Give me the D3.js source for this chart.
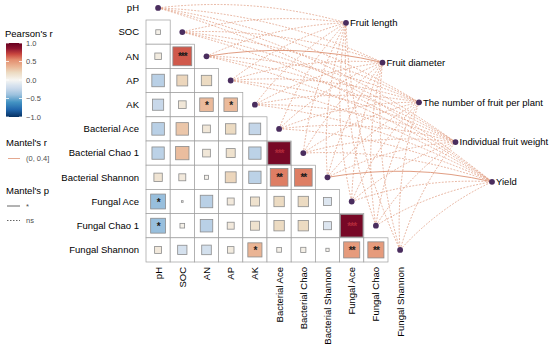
<!DOCTYPE html>
<html>
<head>
<meta charset="utf-8">
<script src="https://cdn.jsdelivr.net/npm/d3@7"></script>
<style>
body { margin: 0; background: #fff; }
svg { display: block; font-family: "Liberation Sans", Arial, sans-serif; }
</style>
</head>
<body>
<svg id="chart" width="550" height="352"></svg>
<script>
// variables of the correlation matrix (rows) and their column labels
const rowNames = ["pH", "SOC", "AN", "AP", "AK", "Bacterial Ace", "Bacterial Chao 1",
    "Bacterial Shannon", "Fungal Ace", "Fungal Chao 1", "Fungal Shannon"];
const colNames = ["pH", "SOC", "AN", "AP", "AK", "Bacterial Ace", "Bacterial Chao",
    "Bacterial Shannon", "Fungal Ace", "Fungal Chao", "Fungal Shannon"];

// lower triangle of Pearson's r, row i has values for columns 0..i-1
const pearsonR = [
    [],
    [0.04],
    [0.08, 0.66],
    [-0.29, 0.22, 0.20],
    [-0.23, 0.11, 0.34, 0.34],
    [-0.29, 0.29, 0.11, 0.20, -0.25],
    [-0.28, 0.33, 0.11, 0.15, -0.28, 0.94],
    [0.13, 0.09, 0.03, 0.22, -0.28, 0.58, 0.58],
    [-0.41, 0.005, -0.29, 0.09, 0.15, 0.20, 0.20, -0.12],
    [-0.41, 0.04, -0.29, 0.09, 0.15, 0.20, 0.20, -0.12, 0.94],
    [0.09, -0.16, -0.17, 0.08, 0.37, 0.04, 0.05, 0.02, 0.48, 0.48]
];
const pearsonSig = [
    [],
    [""],
    ["", "***"],
    ["", "", ""],
    ["", "", "*", "*"],
    ["", "", "", "", ""],
    ["", "", "", "", "", "***"],
    ["", "", "", "", "", "**", "**"],
    ["*", "", "", "", "", "", "", ""],
    ["*", "", "", "", "", "", "", "", "***"],
    ["", "", "", "", "*", "", "", "", "**", "**"]
];

// Mantel test targets, every row variable is linked to every target
const targets = ["Fruit length", "Fruit diameter", "The number of fruit per plant",
    "Individual fruit weight", "Yield"];
// Mantel's r bin is (0, 0.4] for all links; links with p < 0.05
const mantelSignif = [["AN", "Fruit diameter"], ["Bacterial Shannon", "Yield"]];

const colorTicks = [1.0, 0.5, 0.0, -0.5, -1.0];
// palette stops for r from -1 to 1
const paletteDomain = [-1, -0.8, -0.6, -0.4, -0.25, -0.12, 0, 0.2, 0.35, 0.55, 0.7, 0.85, 1];
const paletteColors = ["#053061", "#2166ac", "#4393c3", "#9cc1de", "#c4d6e9", "#dde6f0", "#f6f5f2",
    "#ecdbc2", "#ebb898", "#e38c6d", "#c9473f", "#8e1530", "#67001f"];

const svg = d3.select("#chart");
const cell = 24.2;
const gx = 146, gy = 20;

const x = d3.scaleBand().domain(d3.range(rowNames.length))
    .range([gx, gx + cell * rowNames.length]);
const y = d3.scaleBand().domain(d3.range(rowNames.length))
    .range([gy - cell, gy + cell * (rowNames.length - 1)]);
const color = d3.scaleLinear().domain(paletteDomain).range(paletteColors).clamp(true);

const tx = d3.scaleLinear().domain([0, targets.length - 1]).range([346, 492]);
const ty = d3.scaleLinear().domain([0, targets.length - 1]).range([22.8, 181.8]);

// cells
const cells = [];
pearsonR.forEach((row, i) => row.forEach((r, j) => cells.push({i, j, r, s: pearsonSig[i][j]})));

svg.append("g").selectAll("rect").data(cells).join("rect")
    .attr("x", d => x(d.j)).attr("y", d => y(d.i))
    .attr("width", x.bandwidth()).attr("height", y.bandwidth())
    .attr("fill", "#fff").attr("stroke", "#9e9e9e").attr("stroke-width", 0.7);

svg.append("g").selectAll("rect").data(cells).join("rect")
    .each(function (d) { d.side = Math.sqrt(Math.abs(d.r)) * x.bandwidth() * 0.96; })
    .attr("x", d => x(d.j) + (x.bandwidth() - d.side) / 2)
    .attr("y", d => y(d.i) + (y.bandwidth() - d.side) / 2)
    .attr("width", d => d.side).attr("height", d => d.side)
    .attr("fill", d => color(d.r))
    .attr("stroke", "#8c8c8c").attr("stroke-width", 0.8);

svg.append("g").selectAll("text").data(cells.filter(d => d.s)).join("text")
    .attr("x", d => x(d.j) + x.bandwidth() / 2)
    .attr("y", d => y(d.i) + y.bandwidth() / 2 + 4)
    .attr("text-anchor", "middle")
    .attr("font-size", 10)
    .attr("font-weight", "bold")
    .attr("letter-spacing", -1)
    .attr("fill", d => d.r > 0.85 ? "#b0283a" : "#1a1a1a")
    .text(d => d.s);

// row labels
svg.append("g").selectAll("text").data(rowNames).join("text")
    .attr("x", gx - 7)
    .attr("y", (d, i) => y(i) + y.bandwidth() / 2)
    .attr("dy", "0.35em")
    .attr("text-anchor", "end")
    .attr("font-size", 9.5)
    .text(d => d);

// column labels
svg.append("g").selectAll("text").data(colNames).join("text")
    .attr("transform", (d, i) => `translate(${x(i) + x.bandwidth() / 2 + 3.4},${gy + cell * 10 + 5}) rotate(-90)`)
    .attr("text-anchor", "end")
    .attr("font-size", 9.5)
    .text(d => d);

// Mantel links
const links = [];
rowNames.forEach((src, i) => targets.forEach((tg, k) => {
    const sig = mantelSignif.some(m => m[0] === src && m[1] === tg);
    links.push({x1: x(i) + x.bandwidth() / 2, y1: y(i) + y.bandwidth() / 2, x2: tx(k), y2: ty(k), sig});
}));

const curve = d => {
    const dx = d.x2 - d.x1, dy = d.y2 - d.y1;
    const k = 0.1;
    const cx = (d.x1 + d.x2) / 2 + dy * k, cy = (d.y1 + d.y2) / 2 - dx * k;
    return `M${d.x1},${d.y1}Q${cx},${cy} ${d.x2},${d.y2}`;
};

svg.append("g").selectAll("path").data(links.sort((a, b) => a.sig - b.sig)).join("path")
    .attr("d", curve)
    .attr("fill", "none")
    .attr("stroke", "#dd9274")
    .attr("stroke-width", d => d.sig ? 0.9 : 0.7)
    .attr("stroke-dasharray", d => d.sig ? null : "1.8,1.5");

// nodes
svg.append("g").selectAll("circle").data(rowNames).join("circle")
    .attr("cx", (d, i) => x(i) + x.bandwidth() / 2)
    .attr("cy", (d, i) => y(i) + y.bandwidth() / 2)
    .attr("r", 2.9).attr("fill", "#4a2d5e");

svg.append("g").selectAll("circle").data(targets).join("circle")
    .attr("cx", (d, k) => tx(k)).attr("cy", (d, k) => ty(k))
    .attr("r", 2.9).attr("fill", "#4a2d5e");

svg.append("g").selectAll("text").data(targets).join("text")
    .attr("x", (d, k) => tx(k) + 4).attr("y", (d, k) => ty(k))
    .attr("dy", "0.35em")
    .attr("font-size", 9.5)
    .text(d => d);

// Pearson's r colour bar
const defs = svg.append("defs");
const grad = defs.append("linearGradient").attr("id", "rdbu")
    .attr("x1", 0).attr("y1", 1).attr("x2", 0).attr("y2", 0);
d3.range(0, 1.0001, 0.025).forEach(t => {
    grad.append("stop").attr("offset", t).attr("stop-color", color(t * 2 - 1));
});

const lg = svg.append("g");
lg.append("text").attr("x", 5).attr("y", 37).attr("font-size", 9.5).text("Pearson's r");
const cy = d3.scaleLinear().domain([-1, 1]).range([117, 43]);
lg.append("rect").attr("x", 6).attr("y", cy(1)).attr("width", 16).attr("height", cy(-1) - cy(1))
    .attr("fill", "url(#rdbu)");
lg.append("g").selectAll("line").data(colorTicks).join("line")
    .attr("x1", 6).attr("x2", 9).attr("y1", d => cy(d)).attr("y2", d => cy(d))
    .attr("stroke", "#fff").attr("stroke-width", 0.8);
lg.append("g").selectAll("line").data(colorTicks).join("line")
    .attr("x1", 19).attr("x2", 22).attr("y1", d => cy(d)).attr("y2", d => cy(d))
    .attr("stroke", "#fff").attr("stroke-width", 0.8);
lg.append("g").attr("transform", "translate(22,0)")
    .call(d3.axisRight(cy).tickValues(colorTicks).tickFormat(d3.format(".1f")).tickSize(0).tickPadding(4))
    .call(g => g.select(".domain").remove())
    .call(g => g.selectAll("text").attr("font-size", 7.5).attr("fill", "#4d4d4d")
        .attr("font-family", "Liberation Sans, Arial, sans-serif"));

// Mantel legends
lg.append("text").attr("x", 6).attr("y", 146).attr("font-size", 9.5).text("Mantel's r");
lg.append("line").attr("x1", 8).attr("x2", 20).attr("y1", 158.5).attr("y2", 158.5)
    .attr("stroke", "#dd9274").attr("stroke-width", 0.8);
lg.append("text").attr("x", 26).attr("y", 161).attr("font-size", 7.5).attr("fill", "#4d4d4d").text("(0, 0.4]");

lg.append("text").attr("x", 6).attr("y", 194).attr("font-size", 9.5).text("Mantel's p");
lg.append("line").attr("x1", 7).attr("x2", 20).attr("y1", 206).attr("y2", 206)
    .attr("stroke", "#555").attr("stroke-width", 0.9);
lg.append("text").attr("x", 26).attr("y", 209).attr("font-size", 7.5).attr("fill", "#4d4d4d").text("*");
lg.append("line").attr("x1", 7).attr("x2", 20).attr("y1", 220.5).attr("y2", 220.5)
    .attr("stroke", "#555").attr("stroke-width", 0.9).attr("stroke-dasharray", "1.5,1.5");
lg.append("text").attr("x", 26).attr("y", 223).attr("font-size", 7.5).attr("fill", "#4d4d4d").text("ns");
</script>
</body>
</html>
